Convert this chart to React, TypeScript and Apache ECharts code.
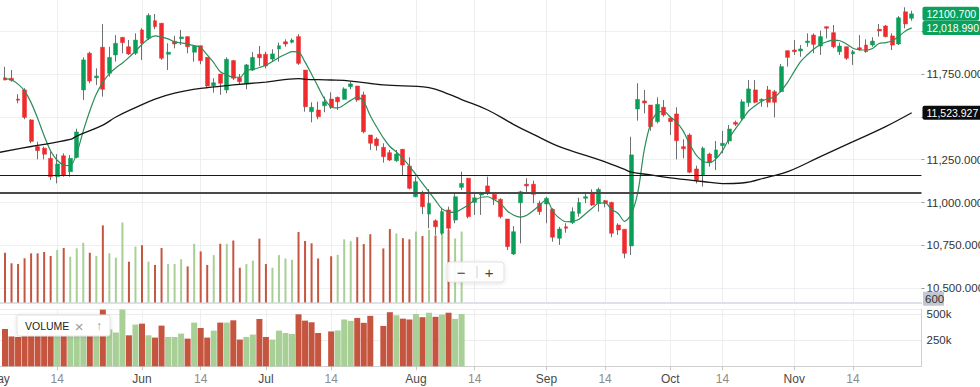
import React, { useEffect, useRef } from "react";
import * as echarts from "echarts";

// ---- candle data (one trading day per slot) ----
const openP = [11728,11725,11604,11657,11482,11326,11317,11258,11151,11273,11180,11264,11657,11871,11728,11906,11754,11861,11964,11909,
11871,12007,11958,12061,12046,11865,11941,11956,11968,11877,11915,11847,11682,11750,11657,11828,11728,11696,11773,11865,
11865,11837,11896,11938,11935,11968,11773,11530,11540,11565,11604,11614,11602,11676,11680,11628,11394,11371,11322,11291,
11244,11311,11213,11034,11058,10933,10894,10821,10957,10898,11089,11142,11001,11044,11097,11048,11019,10904,10700,10999,
11107,11107,10996,10992,10961,10792,10859,10883,10937,11025,11060,10996,11011,11001,10869,10844,10747,11546,11593,11569,
11472,11556,11492,11517,11326,11394,11196,11161,11283,11262,11332,11359,11468,11492,11583,11657,11594,11657,11647,11647,
11886,11890,11884,11933,11977,11913,12026,11991,11880,11909,11867,11903,11919,11919,12011,12030,11972,11925,12113,12075];
const closeP = [11715,11713,11597,11497,11357,11303,11282,11151,11225,11161,11258,11412,11832,11709,11738,11661,11847,11929,11933,11867,
11948,11929,12092,12026,11842,11877,11925,11966,11909,11913,11828,11680,11699,11696,11836,11725,11705,11803,11847,11845,
11797,11867,11915,11925,11948,11812,11559,11556,11501,11588,11556,11588,11663,11692,11598,11413,11346,11332,11268,11248,
11283,11219,11083,11122,10976,10996,10859,10947,10850,11034,11112,10918,11028,11054,11054,11019,10918,10743,10830,11063,
11097,11048,10947,11025,10798,10846,10850,10947,11001,11034,10986,11077,10996,10821,10840,10704,11278,11602,11581,11443,
11573,11511,11472,11361,11314,11177,11128,11317,11235,11307,11346,11429,11457,11588,11663,11585,11602,11585,11585,11793,
11847,11880,11896,11942,11923,11968,12017,11909,11913,11842,11880,11894,11880,11942,12001,11968,11919,12078,12042,12100.7];
const lowP = [11713,11705,11579,11486,11346,11252,11252,11132,11112,11151,11151,11258,11598,11696,11686,11618,11734,11822,11871,11861,
11861,11832,11948,12011,11832,11773,11900,11919,11871,11822,11807,11667,11641,11628,11637,11715,11686,11661,11768,11797,
11783,11822,11822,11909,11929,11803,11530,11468,11486,11527,11546,11540,11602,11661,11588,11404,11307,11303,11233,11243,
11238,11155,11077,11031,10933,10850,10811,10811,10840,10879,11073,10908,10928,10928,11044,10986,10908,10723,10694,10762,
11054,10996,10928,10879,10772,10753,10824,10875,10918,10996,10980,10947,10972,10798,10811,10675,10694,11478,11521,11419,
11462,11501,11394,11252,11258,11171,11112,11093,11209,11190,11287,11340,11447,11482,11559,11579,11559,11556,11497,11643,
11793,11861,11851,11909,11871,11861,11958,11900,11861,11832,11803,11886,11874,11909,11968,11964,11890,11919,12017,12061];
const highP = [11792,11773,11632,11667,11486,11355,11326,11297,11283,11287,11278,11431,11847,11880,11783,12042,11909,11977,11964,11948,
11987,12017,12104,12100,12046,11929,11973,12007,11968,11919,11915,11847,11725,11750,11847,11832,11750,11808,11878,11913,
11880,11894,11933,11952,11958,11982,11773,11585,11588,11618,11643,11618,11672,11705,11680,11647,11394,11381,11346,11307,
11307,11311,11264,11151,11069,11079,10902,10970,10976,11054,11180,11142,11063,11063,11151,11054,11025,10904,10863,11069,
11142,11128,11011,11034,10967,10859,10879,10972,11028,11054,11077,11087,11015,11005,10879,10844,11384,11696,11657,11569,
11614,11598,11501,11556,11369,11404,11215,11326,11291,11359,11418,11453,11478,11602,11715,11715,11608,11680,11657,11808,
11886,11948,11919,11987,11987,12003,12026,12036,11933,11909,11890,11977,11952,11964,12042,12036,11987,12088,12139,12119];

// volume in thousands (only the first 71 sessions are shown; null = no bar)
const volumeK = [359,287,282,321,355,355,364,337,378,391,332,389,427,359,337,545,355,325,565,298,
401,410,298,276,391,282,282,314,266,420,368,276,343,420,420,442,257,282,305,455,
282,257,343,320,311,500,439,423,320,null,335,345,450,437,465,418,485,null,388,520,
490,458,450,503,472,515,476,497,515,456,503];

// short moving average (green), one value per session
const maShort = [11721,11716,11691,11651,11583,11492,11390,11301,11247,11219,11215,11289,11418,11534,11633,11701,11752,11786,11814,11847,
11884,11922,11956,11972,11965,11955,11937,11931,11924,11916,11905,11861,11816,11763,11745,11731,11731,11770,11777,11788,
11801,11823,11846,11865,11880,11878,11819,11749,11675,11604,11558,11552,11571,11596,11615,11587,11507,11439,11377,11327,
11295,11258,11213,11163,11112,11062,11013,10963,10946,10943,10962,10986,11013,11031,11034,11016,10994,10951,10926,10915,
10926,10954,10986,11018,10948,10909,10888,10890,10903,10935,10967,10996,10998,10960,10936,10890,10933,11056,11307,11461,
11524,11532,11499,11468,11415,11338,11275,11241,11233,11255,11303,11374,11431,11482,11534,11565,11591,11607,11615,11653,
11703,11765,11823,11862,11896,11922,11938,11947,11944,11925,11900,11891,11890,11899,11928,11933,11944,11969,12000,12018.99];

// long moving average (black), read at these sessions (-1 = the slot before the first candle)
const maLongIdx = [-1,4,10,11,15,17,20,23,26,30,35,40,45,46,50,53,58,65,68,70,74,78,81,85,91,95,96,99,102,107,110,113,117,120,125,130,135,139];
const maLongVal = [11292,11327,11368,11388,11452,11499,11554,11604,11639,11666,11686,11703,11723,11719,11715,11709,11686,11671,11633,11601,11540,11455,11398,11326,11251,11193,11178,11161,11144,11123,11111,11114,11149,11180,11268,11355,11443,11523.927];

const levelLines = [11161, 11060];
const tickIdx = [-1, 8, 21, 30, 40, 50, 63, 72, 83, 92, 102, 110, 121, 130];
const tickText = ["May", "14", "Jun", "14", "Jul", "14", "Aug", "14", "Sep", "14", "Oct", "14", "Nov", "14"];
// price labels hidden behind the value badges on the right
const coveredPriceTicks = [12000, 11500, 12250];

const lastClose = 12100.7;
const lastShort = 12018.99;
const lastLong = 11523.927;

const UP = "#0a9f58";
const DOWN = "#ef2b2d";
const VOL_UP = "#a8d096";
const VOL_DOWN = "#c6553f";

export default function App() {
  const ref = useRef<HTMLDivElement>(null);
  useEffect(() => {
    document.body.style.margin = "0";
    const chart = echarts.init(ref.current!, null, { renderer: "svg", width: 980, height: 387 });

    const SLOT = 6.523;
    const NSLOT = openP.length + 2;
    const LEFT = 5 - 1.5 * SLOT;
    const W = NSLOT * SLOT;
    const cats = Array.from({ length: NSLOT }, (_, k) => String(k));
    const tickMap = new Map<number, string>();
    tickIdx.forEach((t, k) => tickMap.set(t + 1, tickText[k]));
    const isTick = (i: number) => tickMap.has(i);

    const fmt3 = (v: number) =>
      v.toLocaleString("en-US", { minimumFractionDigits: 3, maximumFractionDigits: 3 });

    const empty = ["-", "-", "-", "-"];
    const wicks = [empty, ...openP.map((o, i) => [o, closeP[i], lowP[i], highP[i]])];
    const bodies = [
      empty,
      ...openP.map((o, i) => [o, closeP[i], Math.min(o, closeP[i]), Math.max(o, closeP[i])]),
    ];
    const volItems = () => [
      "-",
      ...volumeK.map((v, i) => {
        if (v == null) return "-";
        const up = i > 0 && closeP[i] >= closeP[i - 1];
        return { value: v * 1000, itemStyle: { color: up ? VOL_UP : VOL_DOWN } };
      }),
    ];

    const font = "Liberation Sans, Arial, sans-serif";
    const gridBase = { left: LEFT, width: W, outerBoundsMode: "none", containLabel: false };

    const badge = (value: number, text: string, bg: string) => ({
      yAxis: value,
      lineStyle: { color: "rgba(0,0,0,0)", width: 0 },
      label: {
        show: true, position: "end", distance: 1, formatter: text,
        color: "#ffffff", backgroundColor: bg, padding: [2, 3, 1, 4], fontSize: 10.5, borderRadius: 2,
        fontFamily: font,
      },
    });

    const option: any = {
      animation: false,
      textStyle: { fontFamily: font },
      grid: [
        { ...gridBase, top: -11.72, height: 300 },
        { ...gridBase, top: 0, height: 302.5 },
        { ...gridBase, top: 309.5, height: 56.8 },
      ],
      xAxis: [
        {
          type: "category", gridIndex: 0, data: cats, boundaryGap: true,
          axisLine: { show: false }, axisTick: { show: false }, axisLabel: { show: false }, splitLine: { show: false },
        },
        {
          type: "category", gridIndex: 1, data: cats, boundaryGap: true,
          axisLine: { show: true, lineStyle: { color: "#d3d8e0", width: 1.5 } },
          axisTick: { show: false }, axisLabel: { show: false },
          splitLine: { show: true, interval: isTick, alignWithLabel: true, lineStyle: { color: "#eeeeee", width: 1 } },
        },
        {
          type: "category", gridIndex: 2, data: cats, boundaryGap: true,
          axisLine: { show: true, lineStyle: { color: "#d0d0d0", width: 1 } },
          axisTick: { show: true, interval: isTick, alignWithLabel: true, length: 4, lineStyle: { color: "#c8c8c8" } },
          splitLine: { show: true, interval: isTick, alignWithLabel: true, lineStyle: { color: "#eeeeee", width: 1 } },
          axisLabel: {
            show: true, interval: isTick, margin: 7, fontSize: 12, hideOverlap: false,
            formatter: (_v: string, i: number) => {
              const t = tickMap.get(i) || "";
              return /\d/.test(t) ? `{d|${t}}` : `{m|${t}}`;
            },
            rich: {
              d: { color: "#8c8c8c", fontSize: 12, fontFamily: font },
              m: { color: "#4a4a4a", fontSize: 12, fontFamily: font },
            },
          },
        },
      ],
      yAxis: [
        {
          type: "value", gridIndex: 0, position: "right", min: 10500, max: 12250, interval: 250,
          axisLine: { show: false },
          axisTick: { show: true, length: 3, lineStyle: { color: "#9a9a9a" } },
          axisLabel: {
            show: true, margin: 5, fontSize: 11.5, color: "#333",
            formatter: (v: number) => (coveredPriceTicks.includes(v) ? "" : fmt3(v)),
          },
          splitLine: { show: true, lineStyle: { color: "#f0f0f0", width: 1 } },
        },
        { type: "value", gridIndex: 1, min: 20400, max: 2078000, show: false, splitLine: { show: false } },
        {
          type: "value", gridIndex: 2, position: "right", min: 0, max: 546000, interval: 250000,
          axisLine: { show: true, lineStyle: { color: "#d0d0d0" } },
          axisTick: { show: false },
          axisLabel: {
            show: true, margin: 5, fontSize: 11.5, color: "#333",
            formatter: (v: number) => (v === 250000 ? "250k" : v === 500000 ? "500k" : ""),
          },
          splitLine: { show: true, lineStyle: { color: "#ececec", width: 1 } },
        },
      ],
      series: [
        {
          type: "line", xAxisIndex: 0, yAxisIndex: 0, data: [], z: 1, silent: true,
          markLine: {
            silent: true, symbol: "none", animation: false,
            data: [
              { yAxis: levelLines[0], lineStyle: { color: "#1a1a1a", width: 1, type: "solid" }, label: { show: false } },
              { yAxis: levelLines[1], lineStyle: { color: "#4a4a4a", width: 2, type: "solid" }, label: { show: false } },
            ],
          },
        },
        {
          type: "candlestick", xAxisIndex: 0, yAxisIndex: 0, data: wicks, barWidth: 1, z: 2, silent: true,
          itemStyle: { color: "#6f6f6f", color0: "#6f6f6f", borderColor: "#6f6f6f", borderColor0: "#6f6f6f", borderWidth: 1 },
        },
        {
          type: "candlestick", xAxisIndex: 0, yAxisIndex: 0, data: bodies, barWidth: 4.4, z: 3, silent: true,
          itemStyle: { color: UP, color0: DOWN, borderColor: UP, borderColor0: DOWN, borderWidth: 0.5 },
        },
        {
          type: "line", xAxisIndex: 0, yAxisIndex: 0, z: 4, silent: true, showSymbol: false, smooth: 0.3,
          data: maShort.map((v, i) => [i + 1, v]),
          lineStyle: { color: "#2b8d5a", width: 1.2 },
        },
        {
          type: "line", xAxisIndex: 0, yAxisIndex: 0, z: 4, silent: true, showSymbol: false, smooth: 0.4,
          data: maLongIdx.map((t, k) => [t + 1, maLongVal[k]]),
          lineStyle: { color: "#151515", width: 1.3 },
        },
        {
          type: "line", xAxisIndex: 0, yAxisIndex: 0, data: [], z: 6, silent: true,
          markLine: {
            silent: true, symbol: "none", animation: false,
            data: [
              badge(lastClose, lastClose.toFixed(3), "#0aa15c"),
              badge(lastShort, fmt3(lastShort), "#0aa15c"),
              badge(lastLong, fmt3(lastLong), "#0c0c0c"),
            ],
          },
        },
        {
          type: "bar", xAxisIndex: 1, yAxisIndex: 1, data: volItems(), barWidth: 2, z: 1, silent: true, clip: true,
        },
        {
          type: "bar", xAxisIndex: 2, yAxisIndex: 2, data: volItems(), barWidth: 6, z: 2, silent: true, clip: true,
        },
      ],
      graphic: [
        { type: "rect", z: 100, shape: { x: 923, y: 291.7, width: 21, height: 14, r: 1 }, style: { fill: "#c3c7cf" } },
        { type: "text", z: 101, x: 925, y: 299, style: { text: "600", fill: "#333", fontSize: 11.5, fontFamily: font, verticalAlign: "middle" } },
        {
          type: "rect", z: 100, shape: { x: 17, y: 315, width: 93, height: 21, r: 2 },
          style: { fill: "#ffffff", stroke: "#e2e2e2", lineWidth: 1, shadowBlur: 4, shadowColor: "rgba(0,0,0,0.12)", shadowOffsetY: 1 },
        },
        { type: "text", z: 101, x: 25, y: 326, style: { text: "VOLUME", fill: "#222", fontSize: 10.5, fontFamily: font, verticalAlign: "middle" } },
        { type: "text", z: 101, x: 79, y: 326, style: { text: "\u00d7", fill: "#9a9a9a", fontSize: 15, fontFamily: font, align: "center", verticalAlign: "middle" } },
        { type: "text", z: 101, x: 99, y: 326, style: { text: "\u2191", fill: "#9a9a9a", fontSize: 12, fontFamily: font, align: "center", verticalAlign: "middle" } },
        {
          type: "rect", z: 100, shape: { x: 447, y: 262, width: 57, height: 20, r: 3 },
          style: { fill: "rgba(255,255,255,0.92)", stroke: "#e2e2e2", lineWidth: 1, shadowBlur: 4, shadowColor: "rgba(0,0,0,0.12)", shadowOffsetY: 1 },
        },
        { type: "line", z: 101, shape: { x1: 477, y1: 266, x2: 477, y2: 278 }, style: { stroke: "#cfcfcf", lineWidth: 1 } },
        { type: "text", z: 101, x: 461, y: 272, style: { text: "\u2212", fill: "#444", fontSize: 15, fontFamily: font, align: "center", verticalAlign: "middle" } },
        { type: "text", z: 101, x: 489, y: 272, style: { text: "+", fill: "#444", fontSize: 15, fontFamily: font, align: "center", verticalAlign: "middle" } },
      ],
    };

    chart.setOption(option);
    return () => chart.dispose();
  }, []);
  return <div ref={ref} style={{ width: 980, height: 387 }} />;
}
